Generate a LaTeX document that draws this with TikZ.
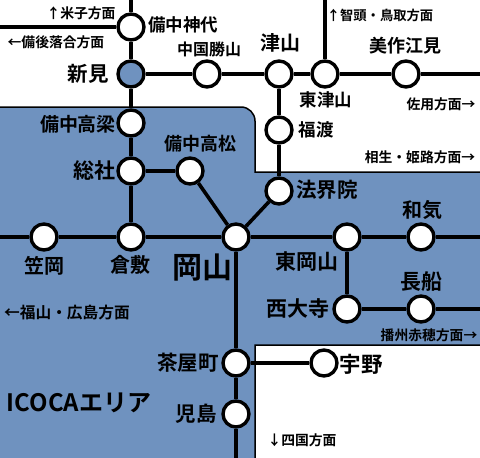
\documentclass[tikz,border=0pt]{standalone}
\usepackage{fontspec}
\setmainfont{Noto Sans CJK JP}[BoldFont={* Bold}]
\definecolor{areablue}{HTML}{6F92BF}
\newcommand{\txtsize}[1]{\fontsize{#1}{#1}\selectfont\bfseries}
\tikzset{
  stn/.style={circle,draw=black,line width=3.4pt,fill=white,minimum size=26pt,inner sep=0pt},
  hubstn/.style={stn,fill=areablue},
  rail/.style={draw=black,line width=3.6pt},
  area/.style={draw=black,line width=1.5pt,fill=areablue},
  lab/.style={inner sep=0pt,text=black,anchor=center,font=\txtsize{#1}},
}
\begin{document}
\begin{tikzpicture}[x=1pt,y=-1pt]
\useasboundingbox (0,0) rectangle (480,458);
\clip (0,0) rectangle (480,458);
\fill[white] (0,0) rectangle (480,458);
\path[area] (-5,107) [rounded corners=14pt] -- (255,107) [sharp corners] -- (255,172) -- (485,172) -- (485,345) -- (255,345) -- (255,465) -- (-5,465) -- cycle;
% stations
\node[stn] (kamishiro) at (131,27) {};
\node[hubstn] (niimi) at (131,74) {};
\node[stn] (katsuyama) at (207,74) {};
\node[stn] (tsuyama) at (279,74) {};
\node[stn] (higashitsuyama) at (325,74) {};
\node[stn] (emi) at (406,74) {};
\node[stn] (fukuwatari) at (279,130) {};
\node[stn] (hokaiin) at (279,191) {};
\node[stn] (takahashi) at (131,123) {};
\node[stn] (soja) at (131,171) {};
\node[stn] (takamatsu) at (190,171) {};
\node[stn] (okayama) at (236,237) {};
\node[stn] (kasaoka) at (44,237) {};
\node[stn] (kurashiki) at (131,237) {};
\node[stn] (higashiokayama) at (347,237) {};
\node[stn] (wake) at (421,237) {};
\node[stn] (saidaiji) at (347,309) {};
\node[stn] (osafune) at (421,309) {};
\node[stn] (chayamachi) at (236,363) {};
\node[stn] (uno) at (324,363) {};
\node[stn] (kojima) at (236,414) {};
% free ends
\coordinate (eN) at (131,-5);
\coordinate (eW) at (-5,27);
\coordinate (eE) at (485,74);
\coordinate (eT) at (325,-5);
\coordinate (eL) at (-5,237);
\coordinate (eR) at (485,237);
\coordinate (eA) at (485,309);
\coordinate (eS) at (236,465);
% connectors
\draw[rail] (eN) -- (kamishiro);
\draw[rail] (eW) -- (kamishiro);
\draw[rail] (kamishiro) -- (niimi);
\draw[rail] (niimi) -- (takahashi);
\draw[rail] (takahashi) -- (soja);
\draw[rail] (soja) -- (kurashiki);
\draw[rail] (soja) -- (takamatsu);
\draw[rail] (takamatsu) -- (okayama);
\draw[rail] (niimi) -- (katsuyama);
\draw[rail] (katsuyama) -- (tsuyama);
\draw[rail] (tsuyama) -- (higashitsuyama);
\draw[rail] (higashitsuyama) -- (emi);
\draw[rail] (emi) -- (eE);
\draw[rail] (eT) -- (higashitsuyama);
\draw[rail] (tsuyama) -- (fukuwatari);
\draw[rail] (fukuwatari) -- (hokaiin);
\draw[rail] (hokaiin) -- (okayama);
\draw[rail] (eL) -- (kasaoka);
\draw[rail] (kasaoka) -- (kurashiki);
\draw[rail] (kurashiki) -- (okayama);
\draw[rail] (okayama) -- (higashiokayama);
\draw[rail] (higashiokayama) -- (wake);
\draw[rail] (wake) -- (eR);
\draw[rail] (higashiokayama) -- (saidaiji);
\draw[rail] (saidaiji) -- (osafune);
\draw[rail] (osafune) -- (eA);
\draw[rail] (okayama) -- (chayamachi);
\draw[rail] (chayamachi) -- (kojima);
\draw[rail] (kojima) -- (eS);
\draw[rail] (chayamachi) -- (uno);
% station labels
\node[lab=17.5] (t1) at (183,25) {備中神代};
\node[lab=16] (t2) at (209,49) {中国勝山};
\node[lab=20.5] (t3) at (88,74) {新見};
\node[lab=19] (t4) at (78,124) {備中高梁};
\node[lab=18] (t5) at (200,144) {備中高松};
\node[lab=21] (t6) at (94,171) {総社};
\node[lab=20] (t7) at (280,43) {津山};
\node[lab=18] (t8) at (405,46) {美作江見};
\node[lab=17.5] (t9) at (326,100) {東津山};
\node[lab=17.5] (t10) at (316,130) {福渡};
\node[lab=20.5] (t11) at (327,190) {法界院};
\node[lab=20] (t12) at (422,210) {和気};
\node[lab=20] (t13) at (44,266) {笠岡};
\node[lab=20] (t14) at (130,265) {倉敷};
\node[lab=30] (t15) at (202,268) {岡山};
\node[lab=21] (t16) at (307,262) {東岡山};
\node[lab=21] (t17) at (421,282) {長船};
\node[lab=21] (t18) at (298,308) {西大寺};
\node[lab=20.5] (t19) at (188,363) {茶屋町};
\node[lab=20.5] (t20) at (196,414) {児島};
\node[lab=21.5] (t21) at (361,364) {宇野};
% direction labels
\node[lab=13.8] (d1) at (81,13) {↑米子方面};
\node[lab=13.8] (d2) at (56,42) {←備後落合方面};
\node[lab=13.3] (d3) at (380,15) {↑智頭・鳥取方面};
\node[lab=13.8] (d4) at (441,104) {佐用方面→};
\node[lab=13.8] (d5) at (420,157) {相生・姫路方面→};
\node[lab=15.7] (d6) at (67,313) {←福山・広島方面};
\node[lab=13.8] (d7) at (429,335) {播州赤穂方面→};
\node[lab=13.8] (d8) at (302,440) {↓四国方面};
\node[lab=24] (icoca) at (79,403) {ICOCAエリア};
\end{tikzpicture}
\end{document}
